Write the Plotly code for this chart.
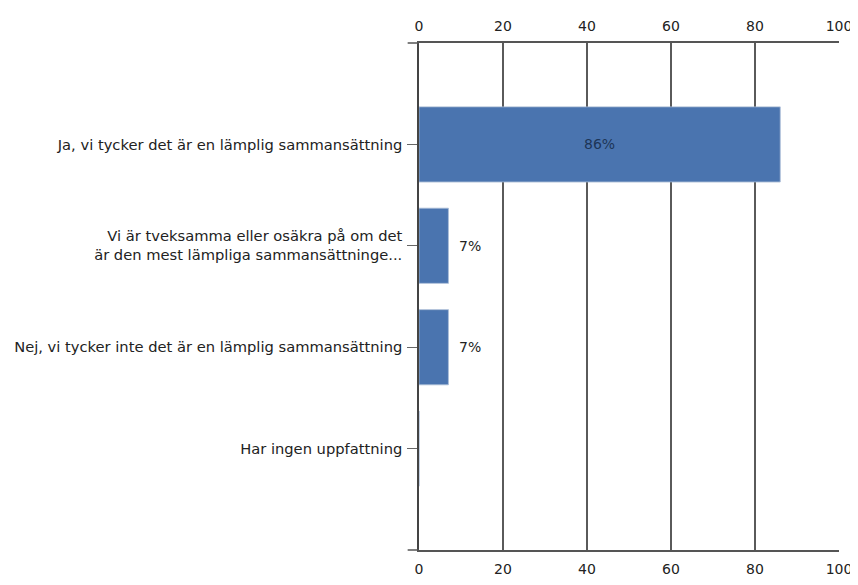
import plotly.graph_objs as go

categories = [
    "Ja, vi tycker det är en lämplig sammansättning",
    "Vi är tveksamma eller osäkra på om det<br>är den mest lämpliga sammansättninge...",
    "Nej, vi tycker inte det är en lämplig sammansättning",
    "Har ingen uppfattning",
]
values = [86, 7, 7, 0]
x_ticks = [0, 20, 40, 60, 80, 100]

bar_color = '#4a74af'
text_color = '#222222'
grid_color = '#5a5a5a'
font = dict(family='DejaVu Sans', size=14, color=text_color)

# wide bars get their label inside, small ones just right of the bar, zero gets none
annotations = []
for cat, v in zip(categories, values):
    if v == 0:
        continue
    if v > 40:
        annotations.append(dict(x=v / 2, y=cat, text=f"{v}%", showarrow=False,
                                xanchor='center', font=dict(size=14, color='#1d3557')))
    else:
        annotations.append(dict(x=v, y=cat, text=f"{v}%", showarrow=False,
                                xanchor='left', xshift=9, font=dict(size=14, color=text_color)))

fig = go.Figure(
    data=[
        go.Bar(
            x=values,
            y=categories,
            orientation='h',
            marker=dict(color=bar_color, line=dict(color='#3f659c', width=0.5)),
            width=0.74,
            showlegend=False,
        ),
        # invisible copy so the top axis gets its own labels
        go.Bar(
            x=values,
            y=categories,
            orientation='h',
            xaxis='x2',
            marker=dict(color='rgba(0,0,0,0)'),
            width=0.74,
            hoverinfo='skip',
            showlegend=False,
        ),
    ],
    layout=go.Layout(
        width=858,
        height=585,
        margin=dict(l=411, r=27, t=35, b=43),
        plot_bgcolor='white',
        paper_bgcolor='white',
        font=font,
        barmode='overlay',
        annotations=annotations,
        xaxis=dict(
            range=[0, 100],
            tickvals=x_ticks,
            side='bottom',
            automargin=False,
            showgrid=True,
            gridcolor=grid_color,
            gridwidth=1.5,
            zeroline=False,
            showline=True,
            linecolor='#555555',
            linewidth=1.5,
            ticks='',
            ticklabelstandoff=5,
        ),
        xaxis2=dict(
            range=[0, 100],
            tickvals=x_ticks,
            side='top',
            overlaying='x',
            automargin=False,
            showgrid=False,
            zeroline=False,
            showline=True,
            linecolor='#555555',
            linewidth=1.5,
            ticks='',
            ticklabelstandoff=5,
        ),
        yaxis=dict(
            type='category',
            categoryorder='array',
            categoryarray=categories,
            range=[4, -1],
            automargin=False,
            showgrid=False,
            zeroline=False,
            showline=True,
            linecolor='#444444',
            linewidth=1.5,
            ticks='outside',
            ticklen=10,
            tickcolor='#666666',
            tickwidth=1,
            ticklabelstandoff=2,
            tickfont=dict(size=14.7),
        ),
        shapes=[
            # the axis lines run a little past the value 0 on the left
            dict(type='line', xref='paper', yref='paper', x0=-0.027, x1=0, y0=1, y1=1,
                 line=dict(color='#555555', width=1.5)),
            dict(type='line', xref='paper', yref='paper', x0=-0.027, x1=0, y0=0, y1=0,
                 line=dict(color='#555555', width=1.5)),
        ],
    )
)

# page is shifted by the body margin; hide the scrollbars that would cover the edge
fig.write_html("out.html", post_script="document.documentElement.style.overflow='hidden';")
